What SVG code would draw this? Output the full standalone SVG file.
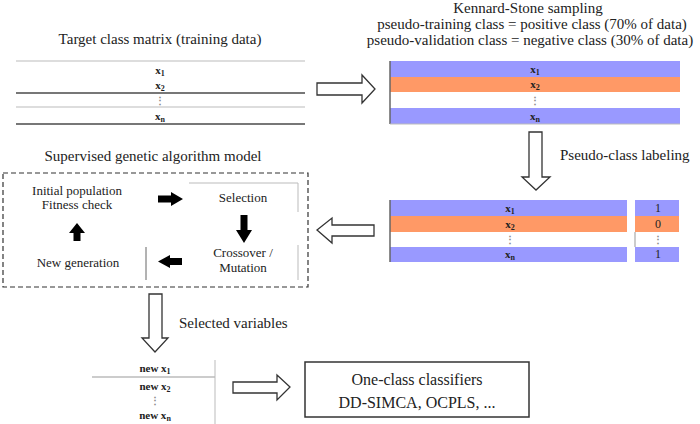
<svg xmlns="http://www.w3.org/2000/svg" width="700" height="424" viewBox="0 0 700 424">
<style>
.t{font-family:"Liberation Serif","Times New Roman",serif;fill:#222;}
.ti{font-size:15px;text-anchor:middle;}
.cell{font-size:11px;font-weight:bold;text-anchor:middle;}
.sub{font-size:8px;}
.ga{font-size:13px;text-anchor:middle;}
.lt{stroke:#bbb;stroke-width:1;fill:none;}
.dk{stroke:#777;stroke-width:2;fill:none;}
.hollow{fill:#fff;stroke:#333;stroke-width:1.3;}
.solid{fill:#000;}
.blue{fill:#9999ff;}
.orange{fill:#ff9966;}
</style>
<rect width="700" height="424" fill="#fff"/>

<g id="target-matrix">
  <text class="t ti" x="160" y="44">Target class matrix (training data)</text>
  <line class="lt" x1="16" y1="61" x2="305" y2="61"/>
  <line class="dk" x1="16" y1="93" x2="305" y2="93"/>
  <line class="lt" x1="16" y1="107" x2="305" y2="107"/>
  <line class="dk" x1="16" y1="124" x2="305" y2="124"/>
  <text class="t cell" x="160" y="74">x<tspan class="sub" dy="2">1</tspan></text>
  <text class="t cell" x="160" y="89">x<tspan class="sub" dy="2">2</tspan></text>
  <text class="t cell" x="160" y="104" style="font-size:10px;fill:#888">⋮</text>
  <text class="t cell" x="160" y="120">x<tspan class="sub" dy="2">n</tspan></text>
</g>

<g id="ks-sampling">
  <text class="t ti" x="528" y="13">Kennard-Stone sampling</text>
  <text class="t ti" x="532" y="29">pseudo-training class = positive class (70% of data)</text>
  <text class="t ti" x="530" y="45">pseudo-validation class = negative class (30% of data)</text>
  <rect class="blue" x="390" y="61" width="290" height="16"/>
  <rect class="orange" x="390" y="77" width="290" height="15"/>
  <rect class="blue" x="390" y="108" width="290" height="16"/>
  <line x1="390" y1="61" x2="390" y2="124" stroke="#666" stroke-width="1.5"/>
  <line class="lt" x1="390" y1="124" x2="680" y2="124"/>
  <text class="t cell" x="535" y="73">x<tspan class="sub" dy="2">1</tspan></text>
  <text class="t cell" x="535" y="88">x<tspan class="sub" dy="2">2</tspan></text>
  <text class="t cell" x="535" y="104" style="font-size:10px;fill:#888">⋮</text>
  <text class="t cell" x="535" y="120">x<tspan class="sub" dy="2">n</tspan></text>
</g>

<g id="pseudo-labeled">
  <text class="t" x="560" y="160" style="font-size:15px">Pseudo-class labeling</text>
  <rect class="blue" x="390" y="200" width="237" height="16"/>
  <rect class="orange" x="390" y="216" width="237" height="16"/>
  <rect class="blue" x="390" y="247" width="237" height="15"/>
  <rect class="blue" x="635" y="200" width="44" height="16"/>
  <rect class="orange" x="635" y="216" width="44" height="16"/>
  <rect class="blue" x="635" y="247" width="44" height="15"/>
  <line x1="390" y1="200" x2="390" y2="262" stroke="#666" stroke-width="1.5"/>
  <line x1="635" y1="232" x2="635" y2="247" stroke="#999" stroke-width="1"/>
  <text class="t cell" x="510" y="212">x<tspan class="sub" dy="2">1</tspan></text>
  <text class="t cell" x="510" y="228">x<tspan class="sub" dy="2">2</tspan></text>
  <text class="t cell" x="510" y="243" style="font-size:10px;fill:#888">⋮</text>
  <text class="t cell" x="510" y="258">x<tspan class="sub" dy="2">n</tspan></text>
  <text class="t cell" x="658" y="212" style="font-weight:normal;font-size:12px">1</text>
  <text class="t cell" x="658" y="228" style="font-weight:normal;font-size:12px">0</text>
  <text class="t cell" x="658" y="243" style="font-size:10px;fill:#888">⋮</text>
  <text class="t cell" x="658" y="258" style="font-weight:normal;font-size:12px">1</text>
</g>

<g id="ga-model">
  <text class="t ti" x="153" y="161">Supervised genetic algorithm model</text>
  <rect x="3" y="173" width="305" height="114" fill="none" stroke="#333" stroke-width="1.2" stroke-dasharray="5,3"/>
  <text class="t ga" x="77" y="195">Initial population</text>
  <text class="t ga" x="77" y="209">Fitness check</text>
  <text class="t ga" x="243" y="202">Selection</text>
  <line class="lt" x1="189" y1="183" x2="298" y2="183"/>
  <line class="lt" x1="298" y1="183" x2="298" y2="212"/>
  <text class="t ga" x="243" y="257">Crossover /</text>
  <text class="t ga" x="243" y="272">Mutation</text>
  <line class="lt" x1="298" y1="245" x2="298" y2="280"/>
  <text class="t ga" x="78" y="267">New generation</text>
  <line x1="146" y1="247" x2="146" y2="280" stroke="#666" stroke-width="1"/>
  <polygon class="solid" points="158,195.5 171,195.5 171,192 183,199 171,206 171,202.5 158,202.5"/>
  <polygon class="solid" points="240.5,215 247.5,215 247.5,230 252,230 244,243 236,230 240.5,230"/>
  <polygon class="solid" points="182,258 170,258 170,255 158,261.5 170,268 170,265 182,265"/>
  <polygon class="solid" points="73.5,241 80.5,241 80.5,233 85,233 77,223 69,233 73.5,233"/>
</g>

<g id="selected-vars">
  <text class="t" x="179" y="328" style="font-size:15px">Selected variables</text>
  <line class="lt" x1="92" y1="377" x2="215" y2="377" style="stroke:#999"/>
  <line class="lt" x1="215" y1="360" x2="215" y2="424"/>
  <text class="t cell" x="155" y="372">new x<tspan class="sub" dy="2">1</tspan></text>
  <text class="t cell" x="155" y="390">new x<tspan class="sub" dy="2">2</tspan></text>
  <text class="t cell" x="155" y="404" style="font-size:10px;fill:#888">⋮</text>
  <text class="t cell" x="155" y="419">new x<tspan class="sub" dy="2">n</tspan></text>
</g>

<g id="classifiers">
  <rect x="305" y="362" width="224" height="55" fill="#fff" stroke="#333" stroke-width="1.5"/>
  <text class="t" x="417" y="385" style="font-size:16px;text-anchor:middle">One-class classifiers</text>
  <text class="t" x="417" y="408" style="font-size:16px;text-anchor:middle">DD-SIMCA, OCPLS, ...</text>
</g>

<g id="connectors">
  <polygon class="hollow" points="317,83 362,83 362,75 375,89 362,103 362,95 317,95"/>
  <polygon class="hollow" points="529,132 542,132 542,177 550,177 536,190 522,177 529,177"/>
  <polygon class="hollow" points="374,225 332,225 332,218 317,230 332,243 332,236 374,236"/>
  <polygon class="hollow" points="149,294 162,294 162,338 168,338 155,352 142,338 149,338"/>
  <polygon class="hollow" points="233,382 277,382 277,375 290,387 277,400 277,393 233,393"/>
</g>
</svg>
